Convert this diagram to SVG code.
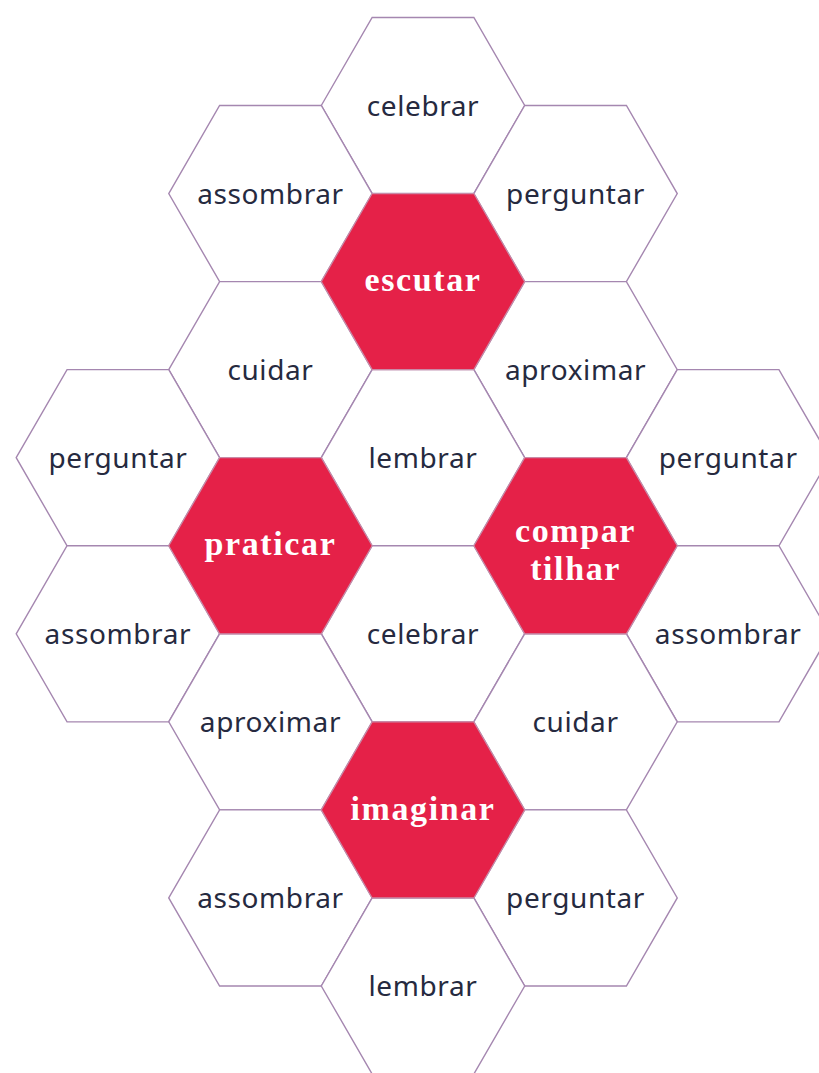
<svg xmlns="http://www.w3.org/2000/svg" xmlns:xlink="http://www.w3.org/1999/xlink" width="819" height="1073" viewBox="0 0 819 1073">
<style>
.hx{fill:#ffffff;stroke:#a587b0;stroke-width:1.4}
.hr{fill:#e52148;stroke:#c98aa6;stroke-width:1.2}
.t{font-family:"Noto Sans","Open Sans",sans-serif;font-size:28px;letter-spacing:0.6px;fill:#262a3f;text-anchor:middle}
.tr{font-family:"Liberation Serif","DejaVu Serif",serif;font-weight:bold;font-size:34px;letter-spacing:1.6px;fill:#ffffff;text-anchor:middle}
</style>
<defs>
<polygon id="hex" points="-101.7,0 -50.85,-88.05 50.85,-88.05 101.7,0 50.85,88.05 -50.85,88.05"/>
</defs>
<rect width="819" height="1073" fill="#ffffff"/>
<g id="n-celebrar1" transform="translate(423,105.5)"><use xlink:href="#hex" class="hx"/><text class="t" y="10">celebrar</text></g>
<g id="n-assombrar1" transform="translate(270.45,193.55)"><use xlink:href="#hex" class="hx"/><text class="t" y="10">assombrar</text></g>
<g id="n-perguntar1" transform="translate(575.55,193.55)"><use xlink:href="#hex" class="hx"/><text class="t" y="10">perguntar</text></g>
<g id="n-cuidar1" transform="translate(270.45,369.65)"><use xlink:href="#hex" class="hx"/><text class="t" y="10">cuidar</text></g>
<g id="n-aproximar1" transform="translate(575.55,369.65)"><use xlink:href="#hex" class="hx"/><text class="t" y="10">aproximar</text></g>
<g id="n-perguntar2" transform="translate(117.9,457.7)"><use xlink:href="#hex" class="hx"/><text class="t" y="10">perguntar</text></g>
<g id="n-lembrar1" transform="translate(423,457.7)"><use xlink:href="#hex" class="hx"/><text class="t" y="10">lembrar</text></g>
<g id="n-perguntar3" transform="translate(728.1,457.7)"><use xlink:href="#hex" class="hx"/><text class="t" y="10">perguntar</text></g>
<g id="n-assombrar2" transform="translate(117.9,633.8)"><use xlink:href="#hex" class="hx"/><text class="t" y="10">assombrar</text></g>
<g id="n-celebrar2" transform="translate(423,633.8)"><use xlink:href="#hex" class="hx"/><text class="t" y="10">celebrar</text></g>
<g id="n-assombrar3" transform="translate(728.1,633.8)"><use xlink:href="#hex" class="hx"/><text class="t" y="10">assombrar</text></g>
<g id="n-aproximar2" transform="translate(270.45,721.85)"><use xlink:href="#hex" class="hx"/><text class="t" y="10">aproximar</text></g>
<g id="n-cuidar2" transform="translate(575.55,721.85)"><use xlink:href="#hex" class="hx"/><text class="t" y="10">cuidar</text></g>
<g id="n-assombrar4" transform="translate(270.45,897.95)"><use xlink:href="#hex" class="hx"/><text class="t" y="10">assombrar</text></g>
<g id="n-perguntar4" transform="translate(575.55,897.95)"><use xlink:href="#hex" class="hx"/><text class="t" y="10">perguntar</text></g>
<g id="n-lembrar2" transform="translate(423,986)"><use xlink:href="#hex" class="hx"/><text class="t" y="10">lembrar</text></g>
<g id="n-escutar" transform="translate(423,281.6)"><use xlink:href="#hex" class="hr"/><text class="tr" y="9">escutar</text></g>
<g id="n-praticar" transform="translate(270.45,545.75)"><use xlink:href="#hex" class="hr"/><text class="tr" y="9">praticar</text></g>
<g id="n-compartilhar" transform="translate(575.55,545.75)"><use xlink:href="#hex" class="hr"/><text class="tr" y="-4">compar</text><text class="tr" y="34">tilhar</text></g>
<g id="n-imaginar" transform="translate(423,809.9)"><use xlink:href="#hex" class="hr"/><text class="tr" y="10">imaginar</text></g>
<g id="connectors"></g>
</svg>
